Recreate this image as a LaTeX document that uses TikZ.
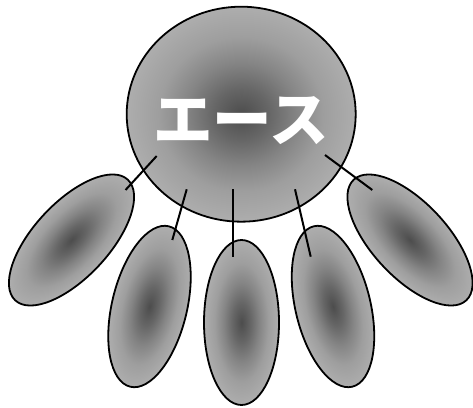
\documentclass[tikz,border=0pt]{standalone}
\usepackage{fontspec}
\newfontfamily\jpfont{Noto Sans CJK JP}
\usetikzlibrary{shapes.geometric}
\definecolor{shdark}{gray}{0.30}
\definecolor{shmid}{gray}{0.40}
\definecolor{shmidb}{gray}{0.52}
\definecolor{shlighta}{gray}{0.62}
\definecolor{shlight}{gray}{0.68}
\pgfdeclareradialshading{ballshade}{\pgfpoint{0bp}{0bp}}{color(0bp)=(shdark); color(6bp)=(shmid); color(12bp)=(shmidb); color(18bp)=(shlighta); color(25bp)=(shlight); color(50bp)=(shlight)}
\begin{document}
\begin{tikzpicture}[x=1pt,y=1pt,
  ballstyle/.style={ellipse, draw=black, line width=1.8pt, shading=ballshade, inner sep=0pt},
  petal/.style={ballstyle, minimum width=75pt, minimum height=165pt},
  stem/.style={line width=2pt}]
\useasboundingbox (0,0) rectangle (473,407);
\node[ballstyle, minimum width=229pt, minimum height=215pt] (ace) at (241.2,292.8) {};
\node[text=white, inner sep=0pt, font=\jpfont\bfseries\fontsize{59.5}{60}\selectfont] (acetext) at (241,286.5) {エース};
\begin{scope}[transform canvas={shift={(71.5pt,167pt)},rotate=-43}]
  \node[petal] (p1) at (0,0) {};
\end{scope}
\begin{scope}[transform canvas={shift={(149.5pt,100.5pt)},rotate=-13.5}]
  \node[petal] (p2) at (0,0) {};
\end{scope}
\begin{scope}[transform canvas={shift={(241.5pt,84.5pt)}}]
  \node[petal] (p3) at (0,0) {};
\end{scope}
\begin{scope}[transform canvas={shift={(333pt,100.5pt)},rotate=13.5}]
  \node[petal] (p4) at (0,0) {};
\end{scope}
\begin{scope}[transform canvas={shift={(410pt,167pt)},rotate=43}]
  \node[petal] (p5) at (0,0) {};
\end{scope}
\coordinate (s1a) at (156.7,251);
\coordinate (s1b) at (125.5,217);
\coordinate (s2a) at (186.7,217.7);
\coordinate (s2b) at (172.3,167);
\coordinate (s3a) at (233.3,217.7);
\coordinate (s3b) at (233.3,150.3);
\coordinate (s4a) at (295,217.7);
\coordinate (s4b) at (310.7,150.3);
\coordinate (s5a) at (325,252);
\coordinate (s5b) at (372.3,217);
\draw[stem] (s1a) -- (s1b);
\draw[stem] (s2a) -- (s2b);
\draw[stem] (s3a) -- (s3b);
\draw[stem] (s4a) -- (s4b);
\draw[stem] (s5a) -- (s5b);
\end{tikzpicture}
\end{document}
